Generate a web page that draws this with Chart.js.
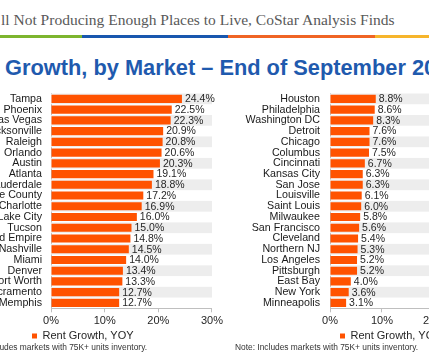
<!DOCTYPE html>
<html><head><meta charset="utf-8">
<script src="https://cdn.jsdelivr.net/npm/chart.js@4/dist/chart.umd.min.js"></script>
<style>
html,body{margin:0;padding:0;background:#fff;}
#wrap{position:relative;width:429px;height:358px;overflow:hidden;background:#fff;font-family:"Liberation Sans",Arial,sans-serif;}
.hdr{position:absolute;left:1px;top:12px;font-family:"Liberation Serif","Times New Roman",serif;font-size:15.5px;line-height:15.5px;color:#595959;white-space:nowrap;}
.rule{position:absolute;top:35px;height:3px;}
.title{position:absolute;left:5px;top:56.5px;font-weight:bold;font-size:21.8px;line-height:21.8px;color:#1F5AAE;white-space:nowrap;}
.note{position:absolute;top:343.4px;font-size:8.4px;line-height:8.4px;color:#333;white-space:nowrap;}
canvas{position:absolute;top:0;}
</style></head><body>
<div id="wrap">
<div class="hdr">ll Not Producing Enough Places to Live, CoStar Analysis Finds</div>
<div class="rule" style="left:0;width:82px;background:#7DB52F"></div>
<div class="rule" style="left:82px;width:146px;background:#1857AE"></div>
<div class="rule" style="left:228px;width:147px;background:#F06424"></div>
<div class="rule" style="left:375px;width:60px;background:#F6B52C"></div>
<div class="title">Growth, by Market – End of September 2021</div>
<canvas id="c1" width="285" height="358" style="left:-60px"></canvas>
<canvas id="c2" width="217" height="358" style="left:230px"></canvas>
<div class="note" style="left:-36px">Note: Includes markets with 75K+ units inventory.</div>
<div class="note" style="left:235px">Note: Includes markets with 75K+ units inventory.</div>
</div>
<script>
const seriesName = 'Rent Growth, YOY';
const leftMarkets = ['Tampa','Phoenix','Las Vegas','Jacksonville','Raleigh','Orlando','Austin','Atlanta','Fort Lauderdale','Orange County','Charlotte','Salt Lake City','Tucson','Inland Empire','Nashville','Miami','Denver','Fort Worth','Sacramento','Memphis'];
const leftValues = [24.4,22.5,22.3,20.9,20.8,20.6,20.3,19.1,18.8,17.2,16.9,16.0,15.0,14.8,14.5,14.0,13.4,13.3,12.7,12.7];
const rightMarkets = ['Houston','Philadelphia','Washington DC','Detroit','Chicago','Columbus','Cincinnati','Kansas City','San Jose','Louisville','Saint Louis','Milwaukee','San Francisco','Cleveland','Northern NJ','Los Angeles','Pittsburgh','East Bay','New York','Minneapolis'];
const rightValues = [8.8,8.6,8.3,7.6,7.6,7.5,6.7,6.3,6.3,6.1,6.0,5.8,5.6,5.4,5.3,5.2,5.2,4.0,3.6,3.1];
const leftAxisMax = 30;
const rightAxisMax = 20;
const tickStep = 10;

const family = '"Liberation Sans", Arial, sans-serif';
const barColor = '#FF5200';

const stripes = {
  id:'stripes',
  beforeDatasetsDraw(chart){
    const {ctx, chartArea:a, scales:{y}} = chart;
    const n = chart.data.labels.length;
    const band = (a.bottom - a.top)/n;
    ctx.save(); ctx.fillStyle = '#EDEDED';
    for(let i=0;i<n;i+=2){ const c=y.getPixelForValue(i); ctx.fillRect(a.left, c-band/2, a.right-a.left, band); }
    ctx.restore();
  }
};
const valueLabels = {
  id:'valueLabels',
  afterDatasetsDraw(chart){
    const ctx=chart.ctx; const meta=chart.getDatasetMeta(0); const data=chart.data.datasets[0].data;
    ctx.save(); ctx.font='10.5px '+family; ctx.fillStyle='#262626'; ctx.textBaseline='middle'; ctx.textAlign='left';
    meta.data.forEach((bar,i)=>{ ctx.fillText(data[i].toFixed(1)+'%', bar.x+3, bar.y+0.5); });
    ctx.restore();
  }
};
const legendShift = {
  id:'legendShift',
  afterLayout(chart, args, opts){
    const lg = chart.legend; if(!lg) return;
    const pad = lg.options.labels.padding;
    const dx = opts.x - (lg.left + pad);
    lg.left += dx; lg.right += dx;
  }
};

function makeChart(id, labels, values, max, yWidth, yPad, legendX){
  return new Chart(document.getElementById(id), {
    type:'bar',
    data:{labels, datasets:[{label:seriesName, data:values, backgroundColor:barColor, borderWidth:0, barPercentage:0.76, categoryPercentage:1}]},
    options:{
      indexAxis:'y', responsive:false, animation:false, devicePixelRatio:1,
      layout:{padding:{top:93.5,bottom:6.5,left:0,right:12}},
      scales:{
        x:{min:0,max,ticks:{stepSize:tickStep, callback:v=>v+'%', color:'#262626', font:{size:11,family}, padding:2},
           grid:{drawOnChartArea:false, drawTicks:true, tickLength:4, color:'#BFBFBF'}, border:{display:true,color:'#BFBFBF'}},
        y:{ticks:{autoSkip:false, color:'#1a1a1a', font:{size:10.7,family}, padding:yPad},
           grid:{display:false, drawTicks:false}, border:{display:true, color:'#BFBFBF'}, afterFit(s){s.width=yWidth;}}
      },
      plugins:{
        legend:{position:'bottom', align:'start', labels:{boxWidth:5, boxHeight:5, padding:1, color:'#262626', font:{size:11,family}}},
        tooltip:{enabled:false},
        legendShift:{x:legendX}
      }
    },
    plugins:[stripes,valueLabels,legendShift]
  });
}
makeChart('c1', leftMarkets, leftValues, leftAxisMax, 111, 9, 92);
makeChart('c2', rightMarkets, rightValues, rightAxisMax, 100, 10, 110);
</script>
</body></html>
